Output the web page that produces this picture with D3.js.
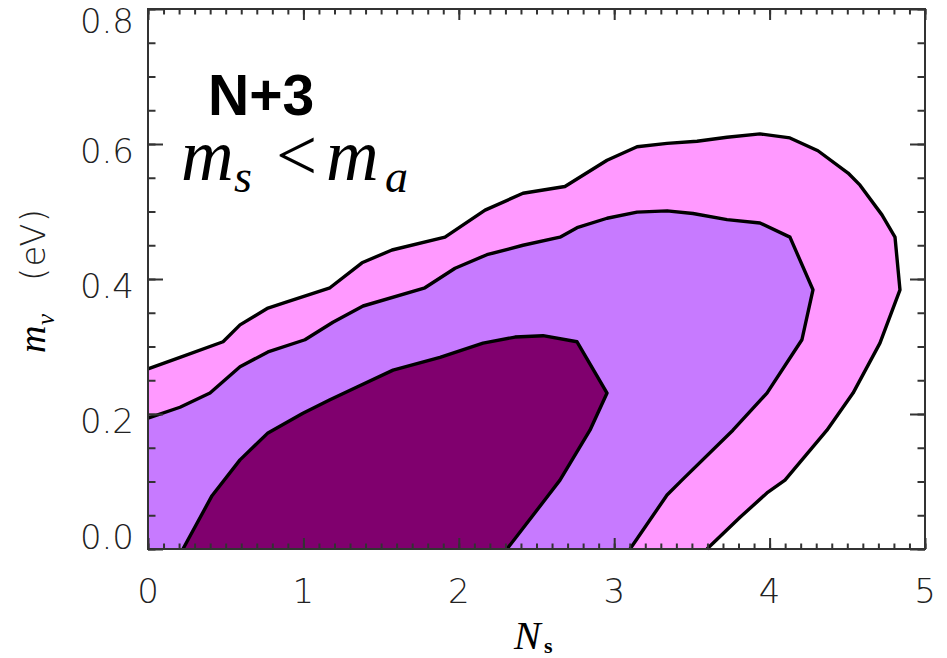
<!DOCTYPE html>
<html>
<head>
<meta charset="utf-8">
<script src="https://cdn.jsdelivr.net/npm/d3@7"></script>
<style>
  body { margin: 0; background: #fff; }
  svg { display: block; }
</style>
</head>
<body>
<svg id="chart" width="947" height="658"></svg>
<script>
// contour lines: [Ns, m_nu]
var outerLine = [[0,0.267],[0.206,0.284],[0.483,0.307],[0.592,0.332],[0.772,0.357],[0.894,0.366],
  [1.171,0.387],[1.377,0.424],[1.570,0.443],[1.911,0.462],[2.169,0.502],[2.413,0.527],[2.683,0.537],
  [2.954,0.576],[3.147,0.596],[3.340,0.601],[3.533,0.604],[3.726,0.610],[3.938,0.615],[4.131,0.609],
  [4.311,0.590],[4.505,0.557],[4.582,0.539],[4.723,0.495],[4.807,0.462],[4.839,0.384],[4.710,0.305],
  [4.537,0.231],[4.369,0.176],[4.099,0.102],[3.983,0.083],[3.810,0.047],[3.597,0]];
var middleLine = [[0,0.194],[0.206,0.210],[0.399,0.231],[0.592,0.270],[0.772,0.292],[1.010,0.310],
  [1.190,0.336],[1.384,0.360],[1.782,0.387],[1.976,0.416],[2.181,0.436],[2.413,0.450],[2.651,0.462],
  [2.761,0.476],[2.954,0.490],[3.147,0.499],[3.340,0.501],[3.507,0.497],[3.726,0.488],[3.938,0.483],
  [4.131,0.462],[4.279,0.384],[4.208,0.310],[4.151,0.290],[3.983,0.231],[3.764,0.176],[3.436,0.102],
  [3.340,0.080],[3.102,0]];
var innerLine = [[0.225,0],[0.412,0.079],[0.592,0.132],[0.772,0.172],[0.997,0.201],[1.171,0.221],
  [1.345,0.240],[1.577,0.265],[1.879,0.284],[2.156,0.305],[2.362,0.314],[2.542,0.316],[2.761,0.307],
  [2.954,0.231],[2.844,0.176],[2.651,0.102],[2.568,0.077],[2.310,0]];

var xTicks = [0, 1, 2, 3, 4, 5];
var yTicks = [0.0, 0.2, 0.4, 0.6, 0.8];

var svg = d3.select("#chart");
var L = 148, R = 925, T = 9, B = 549;
var x = d3.scaleLinear().domain([0, 5]).range([L, R]);
var y = d3.scaleLinear().domain([0, 0.8]).range([B, T]);

var line = d3.line().x(function (d) { return x(d[0]); }).y(function (d) { return y(d[1]); });

// outer and middle regions close along the axes through the (0,0) corner
function region(pts) { return line(pts.concat([[0, 0]])) + "Z"; }

svg.append("path").attr("d", region(outerLine)).attr("fill", "#ff99ff");
svg.append("path").attr("d", region(middleLine)).attr("fill", "#c77aff");
svg.append("path").attr("d", line(innerLine) + "Z").attr("fill", "#80006e");

[outerLine, middleLine, innerLine].forEach(function (pts) {
  svg.append("path").attr("d", line(pts)).attr("fill", "none")
    .attr("stroke", "#000").attr("stroke-width", 3.4).attr("stroke-linejoin", "round");
});

// axes - ticks on all four sides pointing in
var xMinor = d3.range(0, 51).map(function (i) { return i / 10; });
var yMinor = d3.range(0, 17).map(function (i) { return i * 0.05; });

function drawAxis(axis, tx, ty) {
  var g = svg.append("g").attr("transform", "translate(" + tx + "," + ty + ")").call(axis);
  g.selectAll(".domain").remove();
  g.selectAll("line").attr("stroke", "#333").attr("stroke-width", 2);
  return g;
}
drawAxis(d3.axisBottom(x).tickValues(xMinor).tickSize(-5.5).tickFormat(""), 0, B);
drawAxis(d3.axisBottom(x).tickValues(xTicks).tickSize(-11).tickFormat(""), 0, B);
drawAxis(d3.axisTop(x).tickValues(xMinor).tickSize(-5.5).tickFormat(""), 0, T);
drawAxis(d3.axisTop(x).tickValues(xTicks).tickSize(-11).tickFormat(""), 0, T);
drawAxis(d3.axisLeft(y).tickValues(yMinor).tickSize(-7.5).tickFormat(""), L, 0);
drawAxis(d3.axisLeft(y).tickValues(yTicks).tickSize(-15).tickFormat(""), L, 0);
drawAxis(d3.axisRight(y).tickValues(yMinor).tickSize(-7.5).tickFormat(""), R, 0);
drawAxis(d3.axisRight(y).tickValues(yTicks).tickSize(-15).tickFormat(""), R, 0);

svg.append("rect").attr("x", L).attr("y", T).attr("width", R - L).attr("height", B - T)
  .attr("fill", "none").attr("stroke", "#333").attr("stroke-width", 2);

var tickFont = "'DejaVu Sans', sans-serif";
svg.append("g").selectAll("text").data(xTicks).enter().append("text")
  .attr("x", function (d) { return x(d); }).attr("y", 603)
  .attr("text-anchor", "middle").attr("font-family", tickFont).attr("font-weight", 200)
  .attr("font-size", 34).attr("fill", "#222").text(function (d) { return d; });
// end labels are pulled inside the frame like in the original
svg.append("g").selectAll("text").data(yTicks).enter().append("text")
  .attr("x", 134)
  .attr("y", function (d) { return Math.max(21, Math.min(537, y(d) + 7)) + 12; })
  .attr("text-anchor", "end").attr("font-family", tickFont).attr("font-weight", 200)
  .attr("font-size", 34).attr("fill", "#222").text(function (d) { return d.toFixed(1); });

// axis titles
var serif = "'Liberation Serif', 'Times New Roman', serif";
svg.append("text").attr("x", 514).attr("y", 649).attr("font-family", serif)
  .attr("font-style", "italic").attr("font-size", 40).text("N");
svg.append("text").attr("x", 544).attr("y", 653).attr("font-family", serif)
  .attr("font-weight", "bold").attr("font-size", 22).text("s");

var yl = svg.append("g").attr("transform", "translate(45,0) rotate(-90)");
yl.append("text").attr("x", -353).attr("y", 0).attr("font-family", serif)
  .attr("font-style", "italic").attr("font-size", 38).text("m");
yl.append("text").attr("x", -325).attr("y", 9).attr("font-family", serif)
  .attr("font-style", "italic").attr("font-size", 25).text("ν");
yl.append("text").attr("x", -281).attr("y", 0).attr("font-family", tickFont)
  .attr("font-weight", 200).attr("font-size", 34).attr("fill", "#222")
  .attr("textLength", 72).attr("lengthAdjust", "spacing").text("(eV)");

// annotation
svg.append("text").attr("x", 208).attr("y", 115).attr("font-family", "'Liberation Sans', Arial, sans-serif")
  .attr("font-weight", "bold").attr("font-size", 57).text("N+3");
var ann = [
  { t: "m", x: 181, y: 180, s: 73, it: true },
  { t: "s", x: 234, y: 192, s: 46, it: true },
  { t: "<", x: 276, y: 180, s: 73, it: false },
  { t: "m", x: 326, y: 180, s: 73, it: true },
  { t: "a", x: 385, y: 192, s: 46, it: true }
];
svg.append("g").selectAll("text").data(ann).enter().append("text")
  .attr("x", function (d) { return d.x; }).attr("y", function (d) { return d.y; })
  .attr("font-family", serif).attr("font-size", function (d) { return d.s; })
  .attr("font-style", function (d) { return d.it ? "italic" : "normal"; })
  .text(function (d) { return d.t; });
</script>
</body>
</html>
